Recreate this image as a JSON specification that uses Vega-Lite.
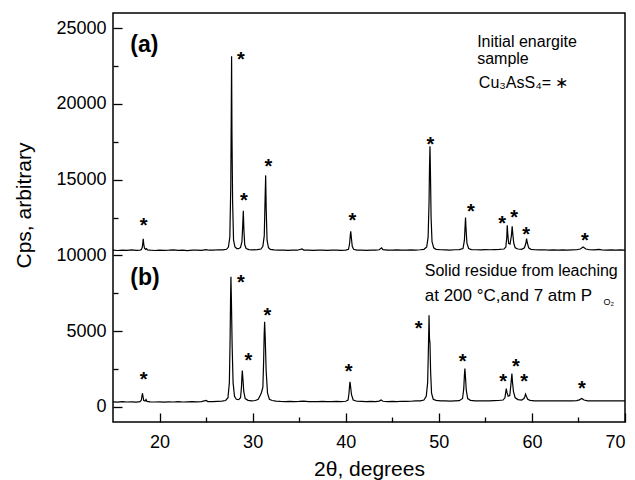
{
  "$schema": "https://vega.github.io/schema/vega-lite/v6.json",
  "width": 512,
  "height": 409,
  "autosize": {"type": "none"},
  "padding": {"left": 113, "top": 13, "right": 10, "bottom": 58},
  "background": "white",
  "config": {
    "view": {"stroke": "black", "strokeWidth": 1.5},
    "font": "Liberation Sans",
    "axis": {"grid": false, "domain": false, "tickColor": "black", "tickWidth": 1.3, "labelColor": "black", "titleColor": "black", "labelFont": "Liberation Sans", "titleFont": "Liberation Sans", "labelFontSize": 18, "titleFontWeight": "normal"}
  },
  "resolve": {"axis": {"x": "independent", "y": "independent"}},
  "datasets": {
    "xrd": [
      {"s":"a","x":15.0,"y":10340},{"s":"a","x":15.5,"y":10320},{"s":"a","x":16.0,"y":10350},{"s":"a","x":16.5,"y":10330},{"s":"a","x":17.0,"y":10360},{"s":"a","x":17.5,"y":10330},{"s":"a","x":17.9,"y":10350},
      {"s":"a","x":18.05,"y":10380},{"s":"a","x":18.15,"y":10550},{"s":"a","x":18.2,"y":10800},{"s":"a","x":18.25,"y":11100},{"s":"a","x":18.3,"y":10750},{"s":"a","x":18.38,"y":10480},{"s":"a","x":18.5,"y":10400},{"s":"a","x":18.6,"y":10450},{"s":"a","x":18.7,"y":10360},
      {"s":"a","x":19.0,"y":10340},{"s":"a","x":19.5,"y":10320},{"s":"a","x":20.0,"y":10350},{"s":"a","x":20.5,"y":10330},{"s":"a","x":21.0,"y":10340},{"s":"a","x":21.5,"y":10360},{"s":"a","x":22.0,"y":10330},{"s":"a","x":22.5,"y":10350},{"s":"a","x":23.0,"y":10320},{"s":"a","x":23.5,"y":10350},{"s":"a","x":24.0,"y":10340},{"s":"a","x":24.5,"y":10330},{"s":"a","x":25.0,"y":10380},{"s":"a","x":25.3,"y":10340},{"s":"a","x":25.8,"y":10350},{"s":"a","x":26.3,"y":10370},{"s":"a","x":26.8,"y":10360},{"s":"a","x":27.2,"y":10400},{"s":"a","x":27.4,"y":10550},
      {"s":"a","x":27.55,"y":11200},{"s":"a","x":27.65,"y":14500},{"s":"a","x":27.7,"y":19000},{"s":"a","x":27.74,"y":23150},{"s":"a","x":27.78,"y":18000},{"s":"a","x":27.85,"y":13500},{"s":"a","x":27.95,"y":11000},{"s":"a","x":28.1,"y":10550},{"s":"a","x":28.3,"y":10450},{"s":"a","x":28.5,"y":10440},{"s":"a","x":28.7,"y":10520},
      {"s":"a","x":28.85,"y":10900},{"s":"a","x":28.93,"y":11900},{"s":"a","x":29.0,"y":12950},{"s":"a","x":29.06,"y":11700},{"s":"a","x":29.15,"y":10700},{"s":"a","x":29.3,"y":10450},{"s":"a","x":29.6,"y":10380},{"s":"a","x":30.0,"y":10360},{"s":"a","x":30.5,"y":10380},{"s":"a","x":30.9,"y":10420},{"s":"a","x":31.1,"y":10600},
      {"s":"a","x":31.25,"y":11300},{"s":"a","x":31.33,"y":13500},{"s":"a","x":31.4,"y":15280},{"s":"a","x":31.46,"y":13000},{"s":"a","x":31.55,"y":11000},{"s":"a","x":31.7,"y":10500},{"s":"a","x":31.9,"y":10400},{"s":"a","x":32.3,"y":10360},{"s":"a","x":32.8,"y":10340},{"s":"a","x":33.3,"y":10350},{"s":"a","x":33.8,"y":10330},{"s":"a","x":34.3,"y":10350},{"s":"a","x":34.8,"y":10340},{"s":"a","x":35.3,"y":10420},{"s":"a","x":35.5,"y":10350},{"s":"a","x":36.0,"y":10340},{"s":"a","x":36.5,"y":10330},{"s":"a","x":37.0,"y":10350},{"s":"a","x":37.5,"y":10340},{"s":"a","x":38.0,"y":10330},{"s":"a","x":38.5,"y":10350},{"s":"a","x":39.0,"y":10340},{"s":"a","x":39.5,"y":10330},{"s":"a","x":40.0,"y":10350},{"s":"a","x":40.3,"y":10400},
      {"s":"a","x":40.42,"y":10800},{"s":"a","x":40.5,"y":11400},{"s":"a","x":40.54,"y":11590},{"s":"a","x":40.6,"y":11200},{"s":"a","x":40.7,"y":10600},{"s":"a","x":40.85,"y":10400},{"s":"a","x":41.2,"y":10350},{"s":"a","x":41.7,"y":10340},{"s":"a","x":42.2,"y":10330},{"s":"a","x":42.7,"y":10350},{"s":"a","x":43.2,"y":10340},{"s":"a","x":43.6,"y":10370},{"s":"a","x":43.85,"y":10500},{"s":"a","x":44.0,"y":10380},{"s":"a","x":44.5,"y":10350},{"s":"a","x":45.0,"y":10340},{"s":"a","x":45.5,"y":10360},{"s":"a","x":46.0,"y":10350},{"s":"a","x":46.5,"y":10340},{"s":"a","x":47.0,"y":10360},{"s":"a","x":47.5,"y":10350},{"s":"a","x":48.0,"y":10370},{"s":"a","x":48.4,"y":10400},{"s":"a","x":48.7,"y":10550},
      {"s":"a","x":48.85,"y":11200},{"s":"a","x":48.95,"y":13500},{"s":"a","x":49.0,"y":15800},{"s":"a","x":49.05,"y":17200},{"s":"a","x":49.1,"y":15500},{"s":"a","x":49.17,"y":12500},{"s":"a","x":49.27,"y":10900},{"s":"a","x":49.45,"y":10500},{"s":"a","x":49.7,"y":10400},{"s":"a","x":50.2,"y":10370},{"s":"a","x":50.7,"y":10360},{"s":"a","x":51.2,"y":10350},{"s":"a","x":51.7,"y":10370},{"s":"a","x":52.2,"y":10380},{"s":"a","x":52.6,"y":10450},
      {"s":"a","x":52.75,"y":11000},{"s":"a","x":52.82,"y":11900},{"s":"a","x":52.87,"y":12490},{"s":"a","x":52.93,"y":11700},{"s":"a","x":53.02,"y":10800},{"s":"a","x":53.2,"y":10450},{"s":"a","x":53.5,"y":10380},{"s":"a","x":54.0,"y":10370},{"s":"a","x":54.5,"y":10360},{"s":"a","x":55.0,"y":10380},{"s":"a","x":55.5,"y":10370},{"s":"a","x":56.0,"y":10380},{"s":"a","x":56.5,"y":10390},{"s":"a","x":57.0,"y":10420},{"s":"a","x":57.2,"y":10550},
      {"s":"a","x":57.3,"y":11200},{"s":"a","x":57.35,"y":11980},{"s":"a","x":57.42,"y":11300},{"s":"a","x":57.5,"y":10800},{"s":"a","x":57.65,"y":10750},{"s":"a","x":57.8,"y":11300},{"s":"a","x":57.88,"y":11920},{"s":"a","x":57.95,"y":11400},{"s":"a","x":58.05,"y":10800},{"s":"a","x":58.2,"y":10500},{"s":"a","x":58.5,"y":10420},{"s":"a","x":58.9,"y":10400},{"s":"a","x":59.2,"y":10500},
      {"s":"a","x":59.35,"y":10800},{"s":"a","x":59.43,"y":11100},{"s":"a","x":59.5,"y":10850},{"s":"a","x":59.65,"y":10500},{"s":"a","x":59.9,"y":10400},{"s":"a","x":60.3,"y":10370},{"s":"a","x":60.8,"y":10360},{"s":"a","x":61.3,"y":10370},{"s":"a","x":61.8,"y":10350},{"s":"a","x":62.3,"y":10360},{"s":"a","x":62.8,"y":10350},{"s":"a","x":63.3,"y":10360},{"s":"a","x":63.8,"y":10350},{"s":"a","x":64.3,"y":10360},{"s":"a","x":64.8,"y":10370},{"s":"a","x":65.2,"y":10420},{"s":"a","x":65.5,"y":10550},{"s":"a","x":65.8,"y":10420},{"s":"a","x":66.2,"y":10370},{"s":"a","x":66.7,"y":10360},{"s":"a","x":67.2,"y":10400},{"s":"a","x":67.5,"y":10360},{"s":"a","x":68.0,"y":10350},{"s":"a","x":68.5,"y":10360},{"s":"a","x":69.0,"y":10350},{"s":"a","x":69.5,"y":10360},{"s":"a","x":70.0,"y":10350},
      {"s":"b","x":15.0,"y":330},{"s":"b","x":15.5,"y":310},{"s":"b","x":16.0,"y":340},{"s":"b","x":16.5,"y":320},{"s":"b","x":17.0,"y":330},{"s":"b","x":17.5,"y":310},{"s":"b","x":17.9,"y":340},
      {"s":"b","x":18.05,"y":450},{"s":"b","x":18.12,"y":750},{"s":"b","x":18.17,"y":900},{"s":"b","x":18.22,"y":700},{"s":"b","x":18.3,"y":420},{"s":"b","x":18.45,"y":380},{"s":"b","x":18.55,"y":480},{"s":"b","x":18.65,"y":360},
      {"s":"b","x":19.0,"y":330},{"s":"b","x":19.5,"y":320},{"s":"b","x":20.0,"y":330},{"s":"b","x":20.5,"y":310},{"s":"b","x":21.0,"y":330},{"s":"b","x":21.5,"y":320},{"s":"b","x":22.0,"y":340},{"s":"b","x":22.5,"y":320},{"s":"b","x":23.0,"y":330},{"s":"b","x":23.5,"y":340},{"s":"b","x":24.0,"y":330},{"s":"b","x":24.5,"y":350},{"s":"b","x":25.0,"y":420},{"s":"b","x":25.2,"y":350},{"s":"b","x":25.7,"y":340},{"s":"b","x":26.2,"y":360},{"s":"b","x":26.7,"y":380},{"s":"b","x":27.1,"y":420},{"s":"b","x":27.35,"y":600},
      {"s":"b","x":27.5,"y":1600},{"s":"b","x":27.58,"y":4500},{"s":"b","x":27.63,"y":7200},{"s":"b","x":27.67,"y":8580},{"s":"b","x":27.72,"y":7000},{"s":"b","x":27.8,"y":4000},{"s":"b","x":27.9,"y":1600},{"s":"b","x":28.05,"y":700},{"s":"b","x":28.25,"y":500},{"s":"b","x":28.5,"y":480},{"s":"b","x":28.7,"y":600},
      {"s":"b","x":28.8,"y":1300},{"s":"b","x":28.85,"y":2000},{"s":"b","x":28.89,"y":2400},{"s":"b","x":28.95,"y":1900},{"s":"b","x":29.05,"y":1000},{"s":"b","x":29.2,"y":550},{"s":"b","x":29.5,"y":430},{"s":"b","x":29.9,"y":400},{"s":"b","x":30.3,"y":420},{"s":"b","x":30.6,"y":500},{"s":"b","x":30.85,"y":800},{"s":"b","x":30.95,"y":950},{"s":"b","x":31.1,"y":1300},
      {"s":"b","x":31.18,"y":3000},{"s":"b","x":31.24,"y":4800},{"s":"b","x":31.29,"y":5610},{"s":"b","x":31.35,"y":4600},{"s":"b","x":31.45,"y":2400},{"s":"b","x":31.6,"y":900},{"s":"b","x":31.8,"y":500},{"s":"b","x":32.1,"y":420},{"s":"b","x":32.5,"y":380},{"s":"b","x":33.0,"y":360},{"s":"b","x":33.5,"y":350},{"s":"b","x":34.0,"y":360},{"s":"b","x":34.5,"y":350},{"s":"b","x":35.0,"y":360},{"s":"b","x":35.5,"y":380},{"s":"b","x":36.0,"y":350},{"s":"b","x":36.5,"y":340},{"s":"b","x":37.0,"y":350},{"s":"b","x":37.5,"y":360},{"s":"b","x":38.0,"y":350},{"s":"b","x":38.5,"y":340},{"s":"b","x":39.0,"y":360},{"s":"b","x":39.5,"y":350},{"s":"b","x":40.0,"y":370},{"s":"b","x":40.25,"y":450},
      {"s":"b","x":40.35,"y":900},{"s":"b","x":40.42,"y":1450},{"s":"b","x":40.46,"y":1650},{"s":"b","x":40.52,"y":1350},{"s":"b","x":40.62,"y":800},{"s":"b","x":40.8,"y":450},{"s":"b","x":41.2,"y":370},{"s":"b","x":41.7,"y":360},{"s":"b","x":42.2,"y":350},{"s":"b","x":42.7,"y":360},{"s":"b","x":43.2,"y":350},{"s":"b","x":43.6,"y":380},{"s":"b","x":43.8,"y":450},{"s":"b","x":44.0,"y":370},{"s":"b","x":44.5,"y":350},{"s":"b","x":45.0,"y":360},{"s":"b","x":45.5,"y":350},{"s":"b","x":46.0,"y":370},{"s":"b","x":46.5,"y":360},{"s":"b","x":47.0,"y":370},{"s":"b","x":47.5,"y":390},{"s":"b","x":48.0,"y":400},{"s":"b","x":48.4,"y":450},{"s":"b","x":48.65,"y":700},
      {"s":"b","x":48.8,"y":1600},{"s":"b","x":48.87,"y":3500},{"s":"b","x":48.92,"y":5000},{"s":"b","x":48.95,"y":6050},{"s":"b","x":49.0,"y":4500},{"s":"b","x":49.05,"y":4200},{"s":"b","x":49.12,"y":2300},{"s":"b","x":49.22,"y":900},{"s":"b","x":49.4,"y":500},{"s":"b","x":49.7,"y":430},{"s":"b","x":50.2,"y":400},{"s":"b","x":50.7,"y":390},{"s":"b","x":51.2,"y":380},{"s":"b","x":51.7,"y":400},{"s":"b","x":52.2,"y":410},{"s":"b","x":52.55,"y":550},
      {"s":"b","x":52.68,"y":1200},{"s":"b","x":52.75,"y":2100},{"s":"b","x":52.8,"y":2530},{"s":"b","x":52.86,"y":2000},{"s":"b","x":52.95,"y":1100},{"s":"b","x":53.1,"y":550},{"s":"b","x":53.4,"y":430},{"s":"b","x":53.9,"y":400},{"s":"b","x":54.4,"y":390},{"s":"b","x":54.9,"y":400},{"s":"b","x":55.4,"y":390},{"s":"b","x":55.9,"y":410},{"s":"b","x":56.4,"y":420},{"s":"b","x":56.9,"y":450},{"s":"b","x":57.1,"y":600},
      {"s":"b","x":57.2,"y":1000},{"s":"b","x":57.25,"y":1210},{"s":"b","x":57.32,"y":950},{"s":"b","x":57.45,"y":700},{"s":"b","x":57.62,"y":750},{"s":"b","x":57.75,"y":1500},{"s":"b","x":57.85,"y":2200},{"s":"b","x":57.92,"y":1600},{"s":"b","x":58.02,"y":1000},{"s":"b","x":58.2,"y":600},{"s":"b","x":58.5,"y":480},{"s":"b","x":58.9,"y":450},{"s":"b","x":59.15,"y":550},
      {"s":"b","x":59.25,"y":700},{"s":"b","x":59.32,"y":840},{"s":"b","x":59.4,"y":700},{"s":"b","x":59.55,"y":500},{"s":"b","x":59.8,"y":430},{"s":"b","x":60.3,"y":400},{"s":"b","x":60.8,"y":390},{"s":"b","x":61.3,"y":400},{"s":"b","x":61.8,"y":390},{"s":"b","x":62.3,"y":400},{"s":"b","x":62.8,"y":390},{"s":"b","x":63.3,"y":400},{"s":"b","x":63.8,"y":390},{"s":"b","x":64.3,"y":400},{"s":"b","x":64.8,"y":410},{"s":"b","x":65.1,"y":460},{"s":"b","x":65.35,"y":550},{"s":"b","x":65.6,"y":450},{"s":"b","x":66.0,"y":400},{"s":"b","x":66.5,"y":390},{"s":"b","x":67.0,"y":400},{"s":"b","x":67.5,"y":390},{"s":"b","x":68.0,"y":400},{"s":"b","x":68.5,"y":390},{"s":"b","x":69.0,"y":400},{"s":"b","x":69.5,"y":390},{"s":"b","x":70.0,"y":395}
    ],
    "stars": [
      {"x":18.28,"y":12250},{"x":28.74,"y":23245},{"x":29.06,"y":13900},{"x":31.69,"y":16190},{"x":40.72,"y":12580},{"x":49.1,"y":17590},{"x":53.44,"y":13190},{"x":56.81,"y":12430},{"x":58.1,"y":12820},{"x":59.39,"y":11700},{"x":65.7,"y":11280},
      {"x":18.28,"y":2090},{"x":28.74,"y":8535},{"x":29.54,"y":3365},{"x":31.58,"y":6310},{"x":40.32,"y":2640},{"x":47.82,"y":5500},{"x":52.55,"y":3300},{"x":56.91,"y":1940},{"x":58.28,"y":2970},{"x":59.17,"y":1940},{"x":65.38,"y":1480}
    ],
    "one": [{}]
  },
  "layer": [
    {
      "data": {"name": "xrd"},
      "mark": {"type": "line", "color": "black", "strokeWidth": 1.2, "clip": true},
      "encoding": {
        "x": {"field": "x", "type": "quantitative",
          "scale": {"domain": [15, 70], "nice": false, "zero": false},
          "axis": {"orient": "bottom", "values": [20,30,40,50,60,70], "format": "d", "offset": -9,
            "tickSize": 9, "labelPadding": 11, "labelBaseline": "top", "labelFontSize": 18,
            "title": "2θ, degrees", "titleFontSize": 21, "titleBaseline": "alphabetic", "titleY": 62}},
        "y": {"field": "y", "type": "quantitative",
          "scale": {"domain": [-1000, 26000], "nice": false, "zero": false},
          "axis": {"orient": "left", "values": [0,5000,10000,15000,20000,25000], "format": "d", "offset": -9,
            "tickSize": 9, "labelPadding": 7, "labelFontSize": 18,
            "title": "Cps, arbitrary", "titleFontSize": 21, "titleBaseline": "alphabetic", "titleAngle": -90, "titleX": -92, "titleY": 192, "titleAlign": "center"}},
        "detail": {"field": "s"}
      }
    },
    {
      "data": {"name": "one"},
      "mark": {"type": "point", "opacity": 0},
      "encoding": {
        "x": {"datum": 20, "type": "quantitative",
          "axis": {"orient": "bottom", "values": [25,35,45,55,65], "offset": -5, "tickSize": 5, "labels": false, "title": null}},
        "y": {"datum": 5000, "type": "quantitative",
          "axis": {"orient": "left", "values": [2500,7500,12500,17500,22500], "offset": -5, "tickSize": 5, "labels": false, "title": null}}
      }
    },
    {
      "data": {"name": "stars"},
      "mark": {"type": "text", "text": "*", "fontSize": 20, "fontWeight": "bold", "baseline": "middle", "align": "center", "dy": 5},
      "encoding": {"x": {"field": "x", "type": "quantitative", "axis": null}, "y": {"field": "y", "type": "quantitative", "axis": null}}
    },
    {
      "data": {"name": "one"},
      "mark": {"type": "text", "text": "(a)", "fontSize": 23, "fontWeight": "bold", "align": "left", "baseline": "middle"},
      "encoding": {"x": {"datum": 16.85, "axis": null}, "y": {"datum": 23890, "axis": null}}
    },
    {
      "data": {"name": "one"},
      "mark": {"type": "text", "text": "(b)", "fontSize": 23, "fontWeight": "bold", "align": "left", "baseline": "middle"},
      "encoding": {"x": {"datum": 16.85, "axis": null}, "y": {"datum": 8490, "axis": null}}
    },
    {
      "data": {"name": "one"},
      "mark": {"type": "text", "text": "Initial enargite", "fontSize": 16, "align": "left", "baseline": "alphabetic"},
      "encoding": {"x": {"datum": 54.12, "axis": null}, "y": {"datum": 23730, "axis": null}}
    },
    {
      "data": {"name": "one"},
      "mark": {"type": "text", "text": "sample", "fontSize": 16, "align": "left", "baseline": "alphabetic"},
      "encoding": {"x": {"datum": 54.12, "axis": null}, "y": {"datum": 22650, "axis": null}}
    },
    {
      "data": {"name": "one"},
      "mark": {"type": "text", "text": "Cu₃AsS₄= ∗", "fontSize": 16, "align": "left", "baseline": "alphabetic"},
      "encoding": {"x": {"datum": 54.3, "axis": null}, "y": {"datum": 21070, "axis": null}}
    },
    {
      "data": {"name": "one"},
      "mark": {"type": "text", "text": "Solid residue from leaching", "fontSize": 16, "align": "left", "baseline": "alphabetic"},
      "encoding": {"x": {"datum": 48.49, "axis": null}, "y": {"datum": 8620, "axis": null}}
    },
    {
      "data": {"name": "one"},
      "mark": {"type": "text", "text": "at 200 °C,and 7 atm P", "fontSize": 17, "align": "left", "baseline": "alphabetic"},
      "encoding": {"x": {"datum": 48.49, "axis": null}, "y": {"datum": 6960, "axis": null}}
    },
    {
      "data": {"name": "one"},
      "mark": {"type": "text", "text": "O₂", "fontSize": 9, "align": "left", "baseline": "alphabetic"},
      "encoding": {"x": {"datum": 67.7, "axis": null}, "y": {"datum": 6750, "axis": null}}
    }
  ]
}
